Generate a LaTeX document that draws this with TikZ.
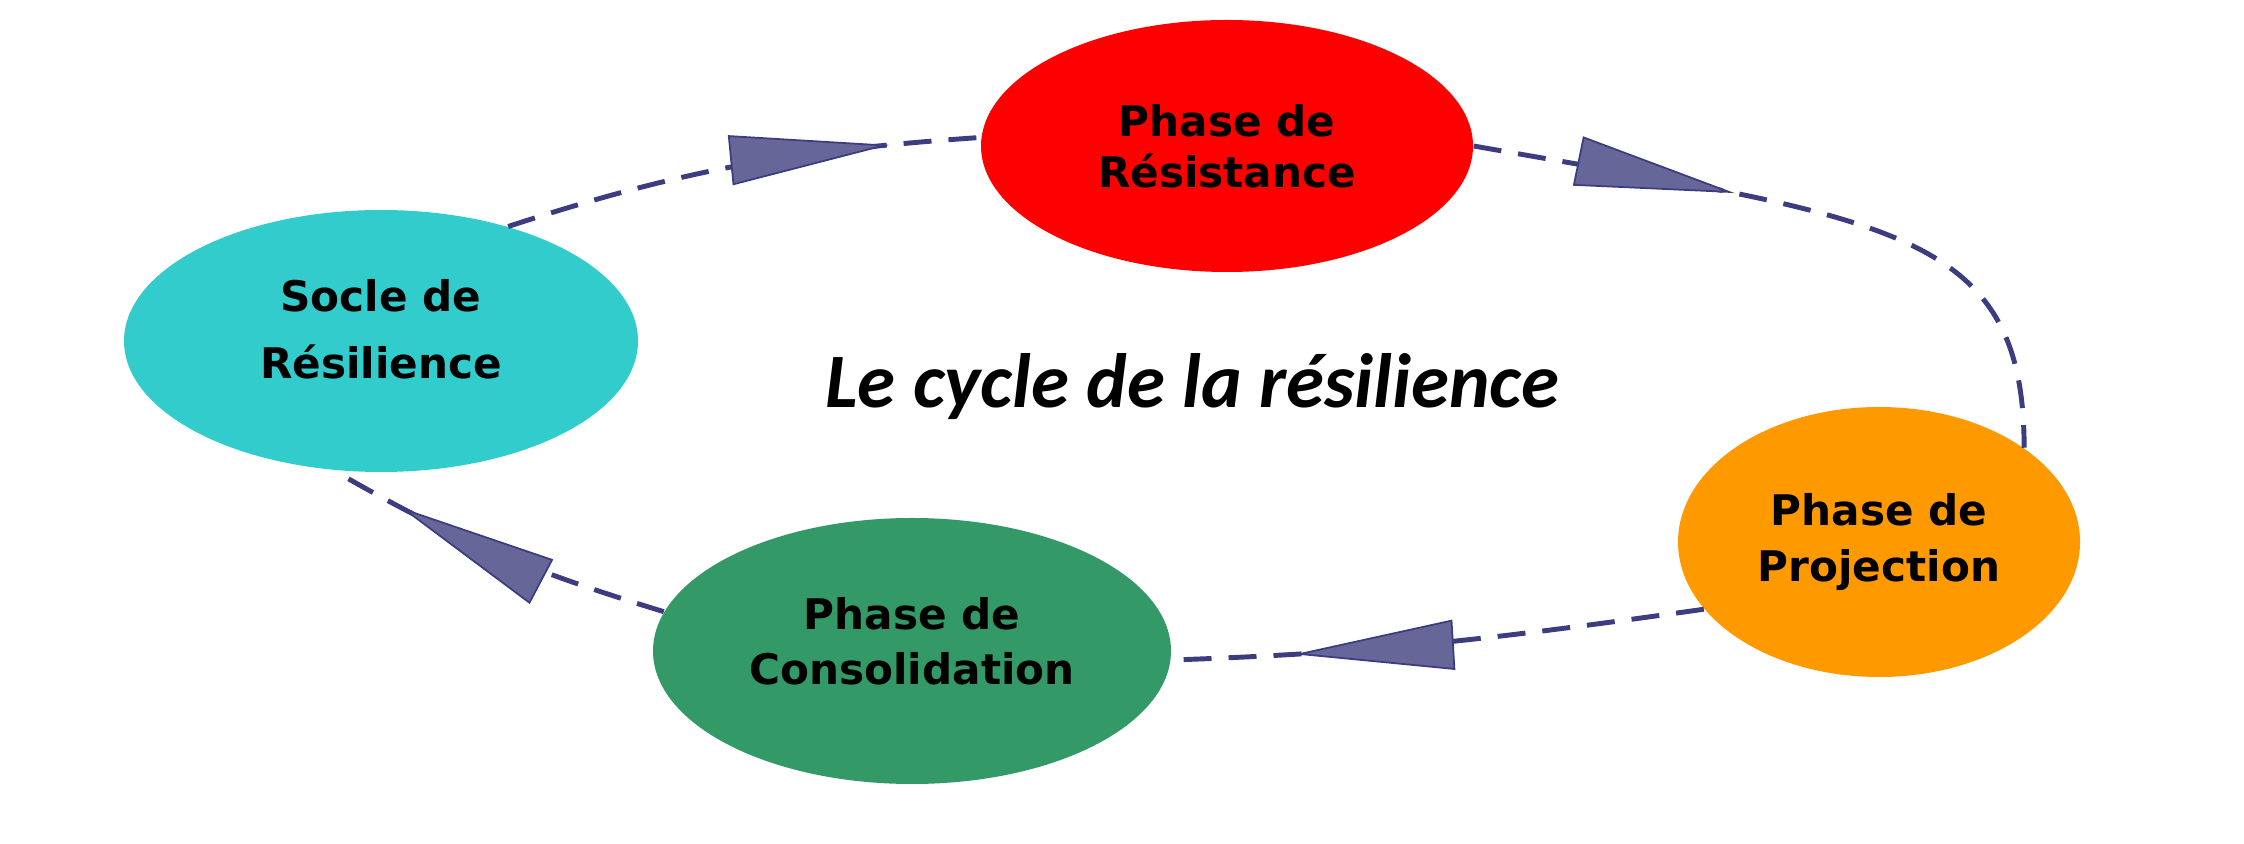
\documentclass[tikz,border=0pt]{standalone}
\usepackage{fontspec}
\setmainfont{DejaVu Sans}
\newfontfamily\titlefont{Carlito}
\usetikzlibrary{shapes.geometric,arrows.meta,decorations.markings}

\definecolor{soclecyan}{RGB}{51,204,204}
\definecolor{resistred}{RGB}{255,0,0}
\definecolor{consolgreen}{RGB}{51,153,102}
\definecolor{projorange}{RGB}{255,153,0}
\definecolor{flowfill}{RGB}{102,102,153}
\definecolor{flowline}{RGB}{60,60,128}

\newcommand\phasefont[1]{\bfseries\fontsize{12}{#1}\selectfont}

\tikzset{
  phase/.style={ellipse, fill=#1, inner sep=0pt, align=center},
  flow/.style={draw=flowline, line width=1.4pt, dash pattern=on 0.28cm off 0.17cm,
    postaction={decorate},
    decoration={markings, mark=at position #1 with
      {\arrow{Triangle[length=1.6cm, width=0.5cm, fill=flowfill, color=flowline, line width=0.5pt]}}}}
}

\begin{document}
\begin{tikzpicture}
  \useasboundingbox (0,0) rectangle (22.44,-8.44);

  % les phases
  \node[phase=soclecyan, minimum width=5.14cm, minimum height=2.62cm, text depth=0.24cm, font=\phasefont{19pt}]
    (socle) at (3.81,-3.41) {Socle de\\Résilience};
  \node[phase=resistred, minimum width=4.92cm, minimum height=2.52cm, font=\phasefont{14.6pt}]
    (resist) at (12.27,-1.46) {Phase de\\Résistance};
  \node[phase=projorange, minimum width=4.02cm, minimum height=2.70cm, font=\phasefont{15.9pt}]
    (proj) at (18.79,-5.42) {Phase de\\Projection};
  \node[phase=consolgreen, minimum width=5.18cm, minimum height=2.66cm, text depth=0.2cm, font=\phasefont{15.6pt}]
    (consol) at (9.12,-6.51) {Phase de\\Consolidation};

  % titre
  \node[anchor=base, font=\titlefont\bfseries\itshape\fontsize{21.9}{25}\selectfont]
    (title) at (11.92,-4.08) {Le cycle de la résilience};

  % le cycle
  \draw[flow=0.81] (socle.42) to[out=18, in=184] (resist.178);
  \draw[flow=0.38] (resist.east) .. controls +(-10:4.2) and +(90:2.2) .. (proj.33);
  \draw[flow=0.77] (proj.201) to[out=188, in=2] (consol.358);
  \draw[flow=0.79] (consol.171) to[out=163, in=330] (socle.250);
\end{tikzpicture}
\end{document}
